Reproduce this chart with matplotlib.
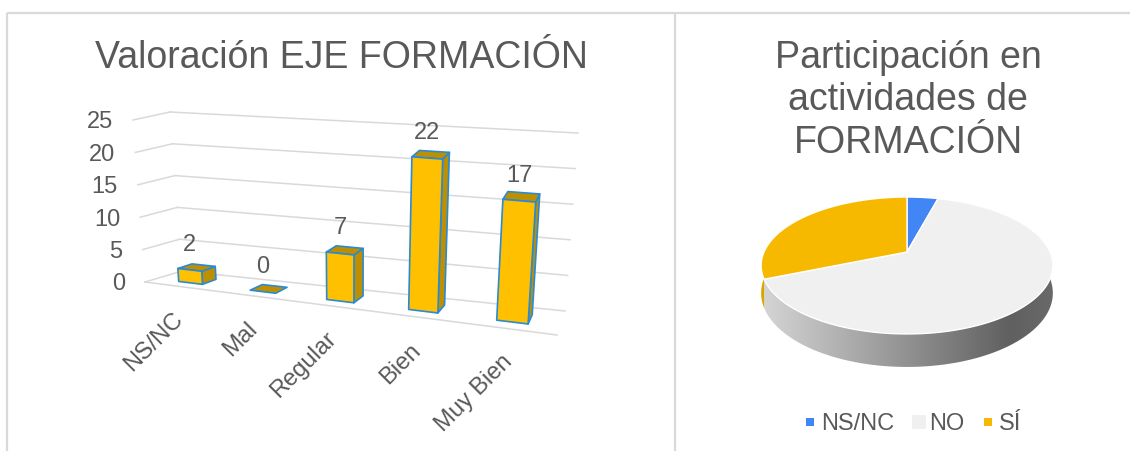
import numpy as np
import matplotlib
matplotlib.use("Agg")
import matplotlib.pyplot as plt
from matplotlib.patches import Polygon

plt.rcParams['font.family'] = ['Liberation Sans', 'DejaVu Sans']

# ---------------- data ----------------
bar_title = "Valoración EJE FORMACIÓN"
bar_categories = ["NS/NC", "Mal", "Regular", "Bien", "Muy Bien"]
bar_values = [2, 0, 7, 22, 17]
y_ticks = [0, 5, 10, 15, 20, 25]

pie_title_lines = ["Participación en", "actividades de", "FORMACIÓN"]
pie_labels = ["NS/NC", "NO", "SÍ"]
pie_values = [2, 31, 15]
pie_colors = ["#4285F4", "#F0F0F0", "#F7B900"]

# ---------------- style ----------------
W, H = 1130, 451
TEXT = "#595959"
GRID = "#D9D9D9"
FRONT = "#FFC000"
DARK = "#BE9000"
EDGE = "#2A8AD4"
SMALL = 17
BIG = 27

fig = plt.figure(figsize=(W / 100, H / 100), dpi=100)
ax = fig.add_axes([0, 0, 1, 1])


def setlim():
    ax.set_xlim(0, W)
    ax.set_ylim(H, 0)
    ax.set_aspect('auto')
    ax.axis('off')


setlim()

# frame
ax.plot([7, W], [13, 13], color=GRID, lw=1.6, solid_capstyle='butt')
ax.plot([7, 7], [13, H], color=GRID, lw=1.6, solid_capstyle='butt')
ax.plot([675, 675], [13, H], color=GRID, lw=1.6, solid_capstyle='butt')

# ---------------- 3D column chart ----------------
VMAX = y_ticks[-1]
N = len(bar_categories)
# projection box: [plane front/back][bottom/top][left/right] -> pixel position
BOX = np.array([
    [[(145, 282), (557, 335)], [(133, 120), (570, 153)]],
    [[(182, 271), (565, 311)], [(170, 112), (578, 133)]],
], float)
PERSP = 0.19


def lerp(a, b, s):
    return a + (b - a) * s


def proj(u, v, z):
    u = u / (1 + PERSP * (1 - u))
    t = v / VMAX
    planes = []
    for zi in range(2):
        bottom = lerp(BOX[zi, 0, 0], BOX[zi, 0, 1], u)
        top = lerp(BOX[zi, 1, 0], BOX[zi, 1, 1], u)
        planes.append(lerp(bottom, top, t))
    return lerp(planes[0], planes[1], z)


def seg(p, q, **kw):
    ax.plot([p[0], q[0]], [p[1], q[1]], **kw)


for v in y_ticks:
    seg(proj(0, v, 0), proj(0, v, 1), color=GRID, lw=1.1, zorder=1)
    seg(proj(0, v, 1), proj(1, v, 1), color=GRID, lw=1.1, zorder=1)
    p = proj(0, v, 0)
    ax.text(p[0] - 20, p[1] + 8.5, str(v), ha='right', va='baseline',
            fontsize=SMALL, color=TEXT)
seg(proj(0, 0, 0), proj(1, 0, 0), color=GRID, lw=1.1, zorder=1)

cw = 1.0 / N
hw = 0.17 * cw
z0, z1 = 0.3, 0.7
for i, (cat, val) in enumerate(zip(bar_categories, bar_values)):
    uc = (i + 0.5) * cw
    u0, u1 = uc - hw, uc + hw
    top = [proj(u0, val, z0), proj(u1, val, z0), proj(u1, val, z1), proj(u0, val, z1)]
    if val > 0:
        side = [proj(u1, 0, z0), proj(u1, 0, z1), proj(u1, val, z1), proj(u1, val, z0)]
        ax.add_patch(Polygon(side, closed=True, facecolor=DARK, edgecolor=EDGE,
                             lw=1.2, joinstyle='round', zorder=3))
    ax.add_patch(Polygon(top, closed=True, facecolor=DARK, edgecolor=EDGE,
                         lw=1.2, joinstyle='round', zorder=3))
    if val > 0:
        front = [proj(u0, 0, z0), proj(u1, 0, z0), proj(u1, val, z0), proj(u0, val, z0)]
        ax.add_patch(Polygon(front, closed=True, facecolor=FRONT, edgecolor=EDGE,
                             lw=1.2, joinstyle='round', zorder=4))
    p = proj(uc, val, z0)
    ax.text(p[0], p[1] - 19, str(val), ha='center', va='baseline',
            fontsize=SMALL, color=TEXT, zorder=5)
    f = proj(uc, 0, 0)
    ax.text(f[0] + 4, f[1] + 34, cat, ha='right', va='baseline', rotation=45,
            rotation_mode='anchor', fontsize=SMALL, color=TEXT)

ax.text(341, 68, bar_title, ha='center', va='baseline', fontsize=BIG, color=TEXT)

# ---------------- 3D pie chart ----------------
for j, line in enumerate(pie_title_lines):
    ax.text(908, 68 + j * 42.5, line, ha='center', va='baseline',
            fontsize=BIG, color=TEXT)

CX, CY, R, B, K, HS = 907, 252, 143, 65.8, 0.197, 26.5


def pie_pt(theta, drop=0.0):
    th = np.radians(theta)
    x = np.sin(th)
    z = -np.cos(th)
    d = 1 - K * z
    return np.column_stack([CX + R * x / d, CY + B * z / d + drop * HS / d])


total = float(sum(pie_values))
bounds = np.concatenate([[0], np.cumsum(pie_values) / total * 360.0])

# side wall with gradient shading
gx = np.linspace(755, 1062, 400)
shade = np.interp(gx, [762, 900, 1010, 1055], [0.89, 0.62, 0.40, 0.44])
VIS0, VIS1 = 60, 300
for k in range(len(pie_values)):
    a0 = max(bounds[k], VIS0)
    a1 = min(bounds[k + 1], VIS1)
    if a1 <= a0:
        continue
    th = np.linspace(a0, a1, 120)
    poly = np.vstack([pie_pt(th, 0), pie_pt(th[::-1], 1)])
    patch = Polygon(poly, closed=True, fill=False, lw=0)
    ax.add_patch(patch)
    base = np.array(matplotlib.colors.to_rgb(pie_colors[k]))
    if pie_labels[k] == "NO":
        base = np.array([0.94, 0.94, 0.94])
    img = np.clip(base[None, None, :] * shade[None, :, None], 0, 1)
    im = ax.imshow(img, extent=(gx[0], gx[-1], 400, 180), aspect='auto',
                   interpolation='bilinear', zorder=2)
    im.set_clip_path(patch)

for k in range(len(pie_values)):
    th = np.linspace(bounds[k], bounds[k + 1], 200)
    poly = np.vstack([[CX, CY], pie_pt(th)])
    ax.add_patch(Polygon(poly, closed=True, facecolor=pie_colors[k],
                         edgecolor='white', lw=1.0, joinstyle='round', zorder=3))

# legend
leg_sq_x = [810, 919, 988]
leg_sq_s = [26, 110, 26]
leg_tx_x = [821, 929, 999]
for k in range(len(pie_labels)):
    ax.scatter([leg_sq_x[k]], [422], marker='s', s=leg_sq_s[k],
               color=pie_colors[k], linewidths=0, zorder=4)
    ax.text(leg_tx_x[k], 430, pie_labels[k], ha='left', va='baseline',
            fontsize=SMALL, color=TEXT)

setlim()
fig.savefig("out.png", dpi=100)
